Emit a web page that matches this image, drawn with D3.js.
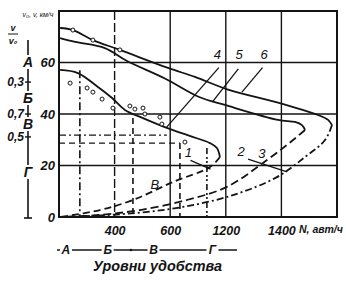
<!DOCTYPE html>
<html>
<head>
<meta charset="utf-8">
<script src="https://cdn.jsdelivr.net/npm/d3@7"></script>
<style>
  body { margin: 0; background: #fff; }
  text { font-family: "Liberation Sans", Arial, sans-serif; fill: #141414; }
</style>
</head>
<body>
<script>
// Axis ticks (the printed N labels do not follow the grid spacing, so keep them as given)
var nTicks = [200, 400, 600, 800];
var nTickLabels = ["400", "600", "1200", "1400"];
var vTicks = [0, 20, 40, 60];
var vGrid = [20, 40, 60];

// Speed-flow curves [N, v]
var curve4 = [[4,57.1],[68,55.9],[140,50.5],[191,46.2],[237,41.6],[300,38.5],[388,34.6],[470,31.5],[543,28.7],[568,26.8],[579,23.3]];
var curve1 = [[579,23.3],[543,19.4],[410,13.6],[266,6.6],[147,2.7],[4,0]];
var curve5 = [[4,69.5],[58,68],[165,65.6],[245,60.6],[381,53.8],[504,46.6],[597,43.5],[788,37.7],[849,36.9],[874,35.7],[885,33.8]];
var curve2 = [[885,33.8],[842,29.9],[748,22.1],[604,11.7],[460,6.6],[291,2.7],[147,0.8],[4,0]];
var curve6 = [[4,73.4],[50,72.6],[122,68.7],[219,64.9],[392,57.9],[489,54.4],[608,49.5],[788,44.4],[932,39.6],[968,37.7],[982,35.7]];
var curve3 = [[982,35.7],[957,29.9],[885,23.3],[784,15.5],[626,8.5],[446,3.9],[281,1.6],[112,0.4],[4,0]];

// Observed points
var obsN = [50, 122, 219, 40, 101, 122, 155, 194, 255, 273, 302, 309, 363, 370, 453];
var obsV = [72.6, 68.7, 64.9, 52, 50.1, 48.5, 45.8, 42.3, 43.1, 41.9, 42.3, 40, 38.8, 36.1, 29.1];

// Level-of-service boundaries
var losH = [{v: 31.8, n1: 0, n2: 388, dash: "7,3,2,3"}, {v: 28.7, n1: 0, n2: 435, dash: "6,4"}];
var losV = [{n: 75, v1: 57, dash: "8,3,2,3"}, {n: 266, v1: 38.4, dash: "6,4"}, {n: 435, v1: 28.7, dash: "6,4"}, {n: 532, v1: 26.8, dash: "6,3,2,2,2,3"}];

// Left scale: levels and load ratios
var levelNames = ["А", "Б", "В", "Г"];
var levelV = [60.2, 46.2, 36.1, 17.5];
var ratioLabels = ["0,3", "0,7", "0,5"];
var ratioV = [52.4, 40, 31.1];

// Bottom scale of service levels
var bottomNames = ["А", "Б", "В", "Г"];
var bottomN = [25, 175, 340, 552];

var ink = "#141414";
var svg = d3.select("body").append("svg").attr("width", 346).attr("height", 285);

var x = d3.scaleLinear().domain([0, 1000]).range([59, 337]);
var y = d3.scaleLinear().domain([0, 80]).range([217, 11]);

// Grid
svg.selectAll(".gx").data(nTicks).enter().append("line")
  .attr("x1", function(d) { return x(d); }).attr("x2", function(d) { return x(d); })
  .attr("y1", y(80)).attr("y2", y(0))
  .attr("stroke", ink).attr("stroke-width", 1.4)
  .attr("stroke-dasharray", function(d, i) { return i == 0 ? "9,3" : null; });
svg.selectAll(".gy").data(vGrid).enter().append("line")
  .attr("x1", x(0)).attr("x2", x(1000))
  .attr("y1", function(d) { return y(d); }).attr("y2", function(d) { return y(d); })
  .attr("stroke", ink).attr("stroke-width", 1.4);

// Frame
svg.append("rect").attr("x", x(0)).attr("y", y(80))
  .attr("width", x(1000) - x(0)).attr("height", y(0) - y(80))
  .attr("fill", "none").attr("stroke", ink).attr("stroke-width", 2);

// LOS boundary lines
svg.selectAll(".lh").data(losH).enter().append("line")
  .attr("x1", function(d) { return x(d.n1); }).attr("x2", function(d) { return x(d.n2); })
  .attr("y1", function(d) { return y(d.v); }).attr("y2", function(d) { return y(d.v); })
  .attr("stroke", ink).attr("stroke-width", 1.4).attr("stroke-dasharray", function(d) { return d.dash; });
svg.selectAll(".lv").data(losV).enter().append("line")
  .attr("x1", function(d) { return x(d.n); }).attr("x2", function(d) { return x(d.n); })
  .attr("y1", function(d) { return y(d.v1); }).attr("y2", y(0))
  .attr("stroke", ink).attr("stroke-width", 1.6).attr("stroke-dasharray", function(d) { return d.dash; });

// Curves
var line = d3.line()
  .x(function(d) { return x(d[0]); })
  .y(function(d) { return y(d[1]); })
  .curve(d3.curveCatmullRom.alpha(0.5));
var curves = [
  {data: curve4, dash: null}, {data: curve5, dash: null}, {data: curve6, dash: null},
  {data: curve1, dash: "7,4"}, {data: curve2, dash: "8,4"}, {data: curve3, dash: "7,3,2,3"}
];
svg.selectAll(".curve").data(curves).enter().append("path")
  .attr("d", function(d) { return line(d.data); })
  .attr("fill", "none").attr("stroke", ink).attr("stroke-width", 1.8)
  .attr("stroke-dasharray", function(d) { return d.dash; });

// Observed points
svg.selectAll(".obs").data(obsN).enter().append("circle")
  .attr("cx", function(d) { return x(d); })
  .attr("cy", function(d, i) { return y(obsV[i]); })
  .attr("r", 2).attr("fill", "#fff").attr("stroke", ink).attr("stroke-width", 1);

// Curve numbers and pointer lines
var curveLabels = [
  {t: "4", n: 570, v: 61.5, from: [575, 58], to: [385, 34.6]},
  {t: "5", n: 648, v: 61.2, from: [645, 57.5], to: [552, 44.7]},
  {t: "6", n: 738, v: 61.5, from: [732, 58], to: [658, 48.5]},
  {t: "1", n: 465, v: 23.3, from: [473, 22], to: [545, 18.6]},
  {t: "2", n: 655, v: 23.5, from: null, to: null},
  {t: "3", n: 730, v: 23.0, from: [680, 22.5], to: [820, 17.5]}
];
svg.selectAll(".clab").data(curveLabels).enter().append("text")
  .attr("x", function(d) { return x(d.n); }).attr("y", function(d) { return y(d.v); })
  .attr("text-anchor", "middle").attr("font-size", 13).attr("font-style", "italic")
  .text(function(d) { return d.t; });
svg.selectAll(".cptr").data(curveLabels.filter(function(d) { return d.from; })).enter().append("line")
  .attr("x1", function(d) { return x(d.from[0]); }).attr("y1", function(d) { return y(d.from[1]); })
  .attr("x2", function(d) { return x(d.to[0]); }).attr("y2", function(d) { return y(d.to[1]); })
  .attr("stroke", ink).attr("stroke-width", 1.3);

// Region letter inside the chart
svg.append("text").attr("x", x(345)).attr("y", y(11)).attr("font-size", 13)
  .attr("font-style", "italic").attr("text-anchor", "middle").text("В");

// Axes
var xAxis = d3.axisBottom(x).tickValues(nTicks).tickSize(0).tickPadding(9)
  .tickFormat(function(d, i) { return nTickLabels[i]; });
var gx = svg.append("g").attr("transform", "translate(0," + y(0) + ")").call(xAxis);
gx.select(".domain").remove();
gx.selectAll("text").attr("font-size", 12.5).attr("font-weight", "bold").attr("font-style", "italic")
  .attr("font-family", "Liberation Sans, Arial, sans-serif").attr("fill", ink);

var yAxis = d3.axisLeft(y).tickValues(vTicks).tickSize(0).tickPadding(4);
var gy = svg.append("g").attr("transform", "translate(" + x(0) + ",0)").call(yAxis);
gy.select(".domain").remove();
gy.selectAll("text").attr("font-size", 13).attr("font-weight", "bold").attr("font-style", "italic")
  .attr("font-family", "Liberation Sans, Arial, sans-serif").attr("fill", ink);

svg.append("text").attr("x", 299).attr("y", 233).attr("font-size", 10.5)
  .attr("font-weight", "bold").attr("font-style", "italic").text("N, авт/ч");

// Left level scale
var scaleX = 28;
svg.append("line").attr("x1", scaleX).attr("x2", scaleX).attr("y1", 40).attr("y2", y(0) + 1)
  .attr("stroke", ink).attr("stroke-width", 1.6);
svg.append("line").attr("x1", scaleX - 4).attr("x2", scaleX + 4).attr("y1", y(0) + 1).attr("y2", y(0) + 1)
  .attr("stroke", ink).attr("stroke-width", 1.6);
svg.selectAll(".rtick").data(ratioV).enter().append("line")
  .attr("x1", scaleX - 3).attr("x2", scaleX + 3)
  .attr("y1", function(d) { return y(d); }).attr("y2", function(d) { return y(d); })
  .attr("stroke", ink).attr("stroke-width", 1.4);
svg.selectAll(".lvbg").data(levelV).enter().append("rect")
  .attr("x", scaleX - 7).attr("y", function(d) { return y(d) - 7; })
  .attr("width", 14).attr("height", 14).attr("fill", "#fff");
svg.selectAll(".lvl").data(levelNames).enter().append("text")
  .attr("x", scaleX).attr("y", function(d, i) { return y(levelV[i]) + 5; })
  .attr("text-anchor", "middle").attr("font-size", 14).attr("font-weight", "bold").attr("font-style", "italic")
  .text(function(d) { return d; });
svg.selectAll(".rat").data(ratioLabels).enter().append("text")
  .attr("x", 24).attr("y", function(d, i) { return y(ratioV[i]) + 4; })
  .attr("text-anchor", "end").attr("font-size", 12).attr("font-weight", "bold").attr("font-style", "italic")
  .text(function(d) { return d; });

// Top-left axis captions
svg.append("text").attr("x", 38).attr("y", 17).attr("font-size", 7).attr("font-style", "italic")
  .attr("text-anchor", "middle").text("v₀, v, км/ч");
svg.append("text").attr("x", 13).attr("y", 31).attr("font-size", 9).attr("font-style", "italic")
  .attr("font-weight", "bold").attr("text-anchor", "middle").text("v");
svg.append("line").attr("x1", 8).attr("x2", 18).attr("y1", 34).attr("y2", 34)
  .attr("stroke", ink).attr("stroke-width", 1);
svg.append("text").attr("x", 13).attr("y", 44).attr("font-size", 9).attr("font-style", "italic")
  .attr("font-weight", "bold").attr("text-anchor", "middle").text("v₀");

// Bottom scale: service levels
var by = 254;
svg.append("line").attr("x1", 57).attr("x2", 237).attr("y1", by - 4).attr("y2", by - 4)
  .attr("stroke", ink).attr("stroke-width", 1.4);
svg.selectAll(".bbg").data(bottomN).enter().append("rect")
  .attr("x", function(d) { return x(d) - 6; }).attr("y", by - 11)
  .attr("width", 12).attr("height", 13).attr("fill", "#fff");
svg.selectAll(".blev").data(bottomNames).enter().append("text")
  .attr("x", function(d, i) { return x(bottomN[i]); }).attr("y", by)
  .attr("text-anchor", "middle").attr("font-size", 12).attr("font-weight", "bold").attr("font-style", "italic")
  .text(function(d) { return d; });
svg.append("circle").attr("cx", 131).attr("cy", by - 4).attr("r", 1.3).attr("fill", ink);
svg.append("text").attr("x", 93).attr("y", 271).attr("font-size", 14).attr("font-style", "italic")
  .attr("font-weight", "bold").attr("font-family", "DejaVu Sans, sans-serif")
  .attr("textLength", 129).attr("lengthAdjust", "spacingAndGlyphs").text("Уровни удобства");
</script>
</body>
</html>
